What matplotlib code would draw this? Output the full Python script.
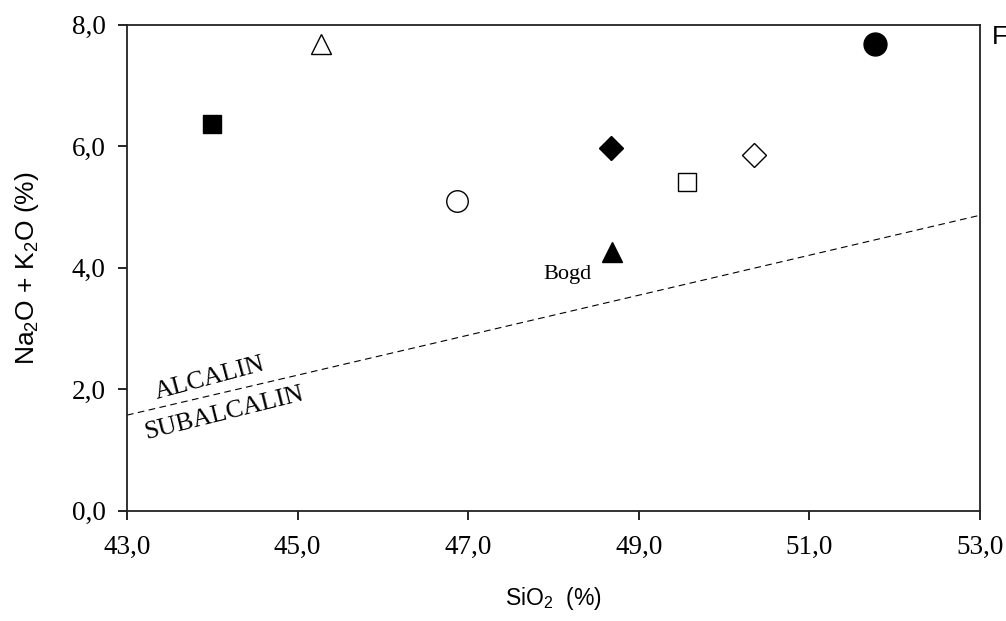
import matplotlib

matplotlib.use("Agg", force=True)
import matplotlib.pyplot as plt

# SiO2 vs total alkali, one marker per sample
sio2 = [44.0, 45.27, 46.87, 48.67, 48.69, 49.57, 50.35, 51.77]
alk = [6.37, 7.68, 5.09, 5.96, 4.25, 5.40, 5.85, 7.68]
markers = ["s", "^", "o", "D", "^", "s", "D", "o"]
filled = [True, False, False, True, True, False, False, True]
sizes = [13.5, 15, 15.5, 12.5, 14, 13, 12.5, 16.5]

# alcalin / subalcalin divide
div_x = [43.0, 53.0]
div_y = [1.57, 4.86]

xticks = [43.0, 45.0, 47.0, 49.0, 51.0, 53.0]
yticks = [0.0, 2.0, 4.0, 6.0, 8.0]

plt.rcParams["mathtext.fontset"] = "custom"
plt.rcParams["mathtext.rm"] = "Liberation Sans"
plt.rcParams["mathtext.it"] = "Liberation Sans"

fig = plt.figure(figsize=(10.06, 6.21), dpi=100)
ax = fig.add_axes([127 / 1006, 1 - 510.5 / 621, 853 / 1006, 486 / 621])

for x, y, m, f, s in zip(sio2, alk, markers, filled, sizes):
    ax.plot(x, y, marker=m, ms=s, mec="black", mew=1.0,
            mfc="black" if f else "white", ls="none", clip_on=False, zorder=3)

ax.plot(div_x, div_y, color="black", lw=0.8, ls=(0, (6, 4)))

ax.text(43.97, 2.18, "ALCALIN", rotation=15, ha="center", va="center",
        family="Liberation Serif", fontsize=18.5)
ax.text(44.14, 1.60, "SUBALCALIN", rotation=14, ha="center", va="center",
        family="Liberation Serif", fontsize=18.5)
ax.text(48.16, 3.88, "Bogd", ha="center", va="center",
        family="Liberation Serif", fontsize=16)

ax.set_xlim(43, 53)
ax.set_ylim(0, 8)
ax.set_xticks(xticks)
ax.set_yticks(yticks)
ax.set_xticklabels([f"{v:.1f}".replace(".", ",") for v in xticks])
ax.set_yticklabels([f"{v:.1f}".replace(".", ",") for v in yticks])
for lab in ax.get_xticklabels() + ax.get_yticklabels():
    lab.set_family("Liberation Serif")
    lab.set_fontsize(19.5)
ax.tick_params(direction="out", length=6.5, width=1.2, top=False, right=False)
ax.tick_params(axis="x", pad=11)
ax.tick_params(axis="y", pad=9)
for sp in ax.spines.values():
    sp.set_linewidth(1.3)
    sp.set_color("#222222")

fig.text(553 / 1006, 1 - 599 / 621, r"SiO$_2$  (%)", ha="center", va="center",
         family="Liberation Sans", fontsize=16.5)
fig.text(27 / 1006, 1 - 268 / 621, r"Na$_2$O + K$_2$O (%)", ha="center", va="center",
         rotation=90, family="Liberation Sans", fontsize=19)
fig.text(992 / 1006, 1 - 37 / 621, "F", ha="left", va="center",
         family="Liberation Sans", fontsize=19)

fig.savefig("out.png", dpi=100)
